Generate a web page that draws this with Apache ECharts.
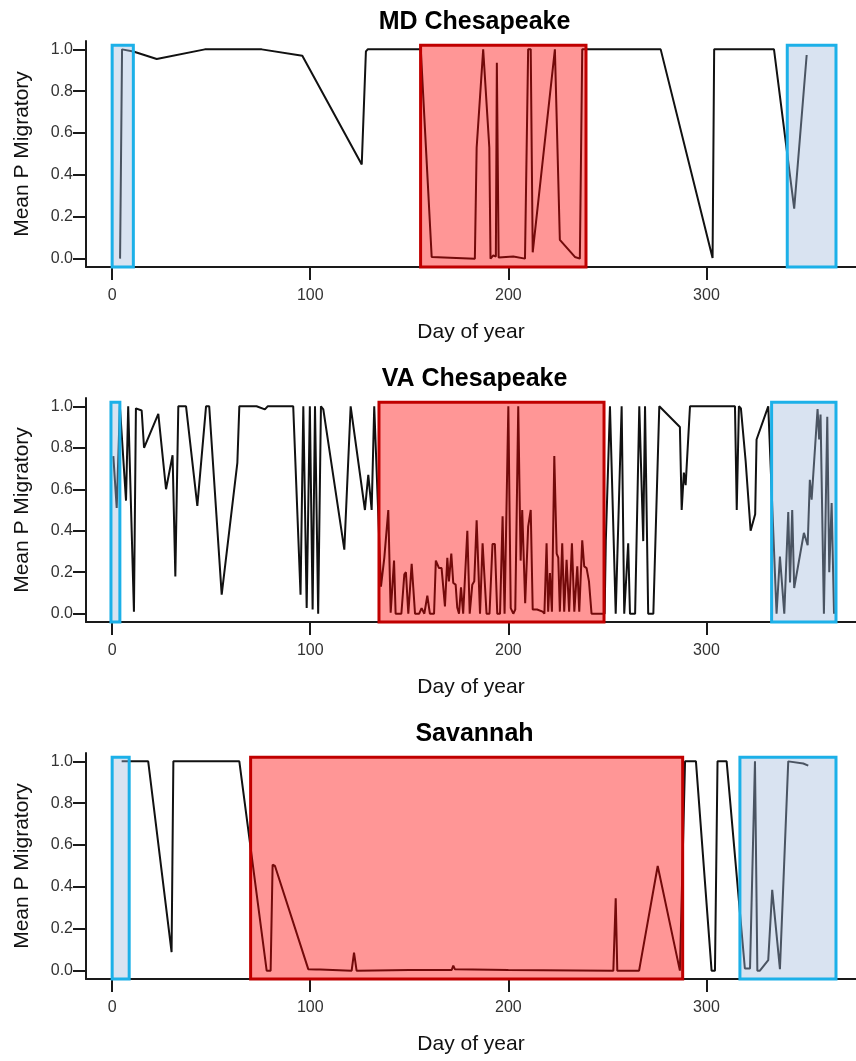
<!DOCTYPE html>
<html>
<head>
<meta charset="utf-8">
<script src="https://cdn.jsdelivr.net/npm/echarts@6/dist/echarts.min.js"></script>
<style>
  html, body { margin: 0; padding: 0; background: #fff; }
  #chart { width: 856px; height: 1061px; }
</style>
</head>
<body>
<div id="chart"></div>
<script>
// panel titles
const panelNames = ['MD Chesapeake', 'VA Chesapeake', 'Savannah']

// axis ticks
const dayTicks = [0, 100, 200, 300]
const pTicks = [0, 0.2, 0.4, 0.6, 0.8, 1.0]

// MD Chesapeake: day of year, mean P migratory
const mdDay = [4, 5, 10.7, 22.5, 46.8, 75.5, 96, 126, 128.1, 129, 155.8, 161.3, 183.1, 184, 187.3, 190.4, 191, 192.4, 193.7, 194.2, 195.1, 202.5, 208.4, 210, 211.3, 212.3, 223.5, 226, 233.6, 236.1, 237.3, 276.9, 303.1, 303.9, 334.1, 344.3, 350.6]
const mdP = [0, 1, 0.99, 0.954, 1, 1, 0.97, 0.45, 0.99, 1, 1, 0.008, 0, 0.53, 1, 0.53, 0, 0.016, 0.01, 0.936, 0.005, 0.01, 0, 1, 1, 0.03, 1, 0.09, 0.008, 0, 1, 1, 0.003, 1, 1, 0.239, 0.973]

// VA Chesapeake
const vaDay = [0.6, 2.3, 3.9, 7.0, 8.1, 11.0, 12.0, 14.9, 16.1, 23.3, 27.2, 30.5, 31.9, 33.4, 37.3, 43.0, 47.4, 49.0, 55.3, 63.2, 64.2, 72.9, 77.1, 78.5, 91.4, 95.1, 96.5, 98.2, 99.8, 101.2, 102.4, 104.0, 105.4, 106.6, 117.2, 120.4, 127.6, 129.3, 131.0, 132.3,
  135.7, 137.4, 138.2, 139.4, 140.6, 142.3, 143.1, 146.0, 147.5, 148.3, 149.5, 151.2, 152.9, 155.0, 156.2, 157.6, 159.1, 160.4, 162.5, 163.4, 165.0, 166.3, 168.0, 169.2, 170.0, 171.2, 172.2, 173.4, 174.2, 175.1, 176.1, 177.2, 179.3, 180.5, 181.8, 182.8, 184.0, 185.7, 187.0, 189.0, 190.5,
  192.0, 193.2, 194.4, 195.8, 197.1, 198.1, 200.0, 201.2, 202.5, 203.5, 205.0, 206.2, 207.0, 208.5, 210.0, 211.3, 212.3, 214.5, 217.3, 218.2, 219.3, 220.1, 221.0, 222.0, 223.2, 224.4, 225.2, 226.0, 227.2, 228.2, 229.4, 230.7, 232.1, 233.3, 234.8, 235.8, 237.3, 238.3, 239.5, 240.7, 242.0, 246.2,
  248.6, 249.2, 249.8, 251.3, 254.2, 257.2, 258.5, 259.2, 260.5, 261.4, 264.0, 266.1, 267.0, 268.1, 269.0, 270.6, 273.2, 276.2, 286.6, 287.5, 288.6, 289.5, 291.7, 314.4, 315.3, 316.4, 317.4, 319.8, 320.3, 322.3, 324.6, 325.3, 331.2,
  335.4, 337.1, 339.3, 341.3, 342.2, 343.3, 344.3, 349.2, 351.1, 352.2, 353.1, 356.1, 356.9, 357.6, 359.3, 361.0, 362.0, 363.2, 364.4]
const vaP = [0.76, 0.51, 1.0, 0.545, 1.0, 0.01, 0.99, 0.98, 0.80, 0.963, 0.60, 0.764, 0.18, 1.0, 1.0, 0.52, 1.0, 1.0, 0.092, 0.727, 1.0, 1.0, 0.985, 1.0, 1.0, 0.092, 1.0, 0.027, 1.0, 0.02, 1.0, 0.0, 1.0, 0.985, 0.309, 1.0, 0.50, 0.67, 0.50, 1.0,
  0.13, 0.27, 0.27, 0.50, 0.005, 0.256, 0.0, 0.0, 0.19, 0.20, 0.0, 0.24, 0.0, 0.0, 0.027, 0.0, 0.087, 0.0, 0.0, 0.256, 0.22, 0.22, 0.035, 0.27, 0.156, 0.29, 0.148, 0.14, 0.03, 0.0, 0.127, 0.0, 0.40, 0.0, 0.14, 0.156, 0.45, 0.0, 0.34, 0.0, 0.0,
  0.336, 0.336, 0.0, 0.0, 0.47, 0.0, 1.0, 0.027, 0.0, 0.02, 1.0, 0.256, 0.50, 0.05, 0.42, 0.50, 0.02, 0.02, 0.01, 0.0, 0.34, 0.01, 0.196, 0.01, 0.76, 0.29, 0.27, 0.01, 0.34, 0.01, 0.26, 0.01, 0.34, 0.01, 0.228, 0.01, 0.354, 0.228, 0.22, 0.156, 0.0, 0.0,
  0.0, 0.35, 0.35, 1.0, 0.0, 1.0, 0.0, 0.0, 0.34, 0.0, 0.0, 1.0, 1.0, 0.35, 1.0, 0.0, 0.0, 1.0, 0.90, 0.50, 0.68, 0.62, 1.0, 1.0, 0.50, 1.0, 0.99, 0.735, 0.735, 0.40, 0.48, 0.84, 1.0,
  0.0, 0.276, 0.0, 0.49, 0.15, 0.50, 0.124, 0.39, 0.33, 0.646, 0.55, 0.987, 0.84, 0.96, 0.0, 0.95, 0.2, 0.534, 0.0]

// Savannah
const savDay = [4.8, 18.2, 30.0, 30.9, 64.2, 78.0, 80.0, 81.0, 82.2, 99.0, 103.0, 104.0, 105.0, 120.9, 122.1, 123.4, 150.0, 171.4, 172.2, 173.0, 200.0, 253.0, 254.2, 255.0, 266.0, 275.4, 286.6, 289.2, 294.7, 302.6, 304.3, 305.6, 310.2, 319.4, 322.0, 324.5, 325.7, 327.0, 331.2, 333.2, 337.1, 341.3, 348.9, 351.4]
const savP = [1.0, 1.0, 0.088, 1.0, 1.0, 0.0, 0.0, 0.506, 0.5, 0.007, 0.005, 0.01, 0.005, 0.0, 0.086, 0.0, 0.003, 0.003, 0.024, 0.007, 0.003, 0.0, 0.346, 0.0, 0.0, 0.50, 0.0, 1.0, 1.0, 0.0, 0.0, 1.0, 1.0, 0.01, 0.01, 1.0, 0.0, 0.0, 0.05, 0.386, 0.007, 1.0, 0.99, 0.98]

// shaded season windows [start day, end day]
const boxSeason = ['winter', 'summer', 'winter']
const mdBoxes = [[0, 10.7], [155.7, 239.2], [340.8, 365.4]]
const vaBoxes = [[-0.6, 3.9], [134.7, 248.3], [332.9, 365.4]]
const savBoxes = [[0, 8.6], [69.9, 288], [316.9, 365.4]]

const X_MIN = -13.2, X_MAX = 375.5
const Y_MIN = -0.04, Y_MAX = 1.04, BOX_TOP = 1.02
const FONT = '"Liberation Sans", Arial, sans-serif'
const AXIS_COLOR = '#1a1a1a'

const panels = [
  { day: mdDay, p: mdP, boxes: mdBoxes, top: 41, height: 226 },
  { day: vaDay, p: vaP, boxes: vaBoxes, top: 398, height: 224 },
  { day: savDay, p: savP, boxes: savBoxes, top: 753, height: 226 },
]

const seasonStyle = {
  winter: { fill: 'rgba(160,185,220,0.4)', stroke: '#1cb0e8' },
  summer: { fill: 'rgba(255,0,0,0.41)', stroke: '#c00000' },
}

const chart = echarts.init(document.getElementById('chart'), null, { renderer: 'canvas' })

const option = {
  animation: false,
  backgroundColor: '#fff',
  title: panels.map((pn, i) => ({
    text: panelNames[i],
    left: 474.5,
    top: pn.top - 31,
    textAlign: 'center',
    padding: 0,
    textStyle: { fontFamily: FONT, fontSize: 25, fontWeight: 'bold', color: '#000' },
  })),
  grid: panels.map(pn => ({ left: 86, right: 0, top: pn.top, height: pn.height })),
  xAxis: panels.map((pn, i) => ({
    type: 'value',
    gridIndex: i,
    min: X_MIN,
    max: X_MAX,
    name: 'Day of year',
    nameLocation: 'middle',
    nameGap: 55,
    nameTextStyle: { fontFamily: FONT, fontSize: 21, color: '#111' },
    axisLine: { onZero: false, lineStyle: { color: AXIS_COLOR, width: 2 } },
    axisTick: { customValues: dayTicks, length: 13, lineStyle: { color: AXIS_COLOR, width: 2 } },
    axisLabel: { customValues: dayTicks, margin: 21, fontFamily: FONT, fontSize: 16, color: '#333' },
    splitLine: { show: false },
  })),
  yAxis: panels.map((pn, i) => ({
    type: 'value',
    gridIndex: i,
    min: Y_MIN,
    max: Y_MAX,
    name: 'Mean P Migratory',
    nameLocation: 'middle',
    nameGap: 53,
    nameTextStyle: { fontFamily: FONT, fontSize: 21, color: '#111' },
    axisLine: { show: true, onZero: false, lineStyle: { color: AXIS_COLOR, width: 2 } },
    axisTick: { show: true, customValues: pTicks, length: 13, lineStyle: { color: AXIS_COLOR, width: 2 } },
    axisLabel: { customValues: pTicks, margin: 13, fontFamily: FONT, fontSize: 16, color: '#333', formatter: v => v.toFixed(1) },
    splitLine: { show: false },
  })),
  series: [],
}

panels.forEach((pn, i) => {
  option.series.push({
    type: 'line',
    xAxisIndex: i,
    yAxisIndex: i,
    data: pn.day.map((d, k) => [d, pn.p[k]]),
    showSymbol: false,
    lineStyle: { color: '#111', width: 2 },
    z: 2,
  })
  option.series.push({
    type: 'custom',
    xAxisIndex: i,
    yAxisIndex: i,
    data: pn.boxes,
    encode: { x: [0, 1] },
    z: 3,
    renderItem: (params, api) => {
      const a = api.coord([api.value(0), BOX_TOP])
      const b = api.coord([api.value(1), Y_MIN])
      const st = seasonStyle[boxSeason[params.dataIndex]]
      return {
        type: 'rect',
        shape: { x: a[0], y: a[1], width: b[0] - a[0], height: b[1] - a[1] },
        style: { fill: st.fill, stroke: st.stroke, lineWidth: 3 },
      }
    },
  })
})

chart.setOption(option)
</script>
</body>
</html>
